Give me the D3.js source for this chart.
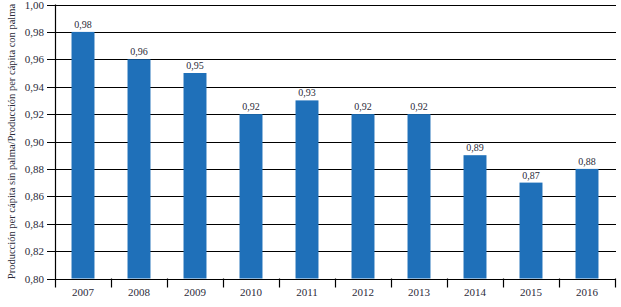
<!DOCTYPE html>
<html>
<head>
<meta charset="utf-8">
<script src="https://cdn.jsdelivr.net/npm/d3@7"></script>
<style>
  body { margin: 0; background: #fff; }
  svg text { font-family: "Liberation Serif", "DejaVu Serif", serif; fill: #2b2b3a; }
</style>
</head>
<body>
<svg id="chart" width="621" height="307"></svg>
<script>
// data
var years = ["2007", "2008", "2009", "2010", "2011", "2012", "2013", "2014", "2015", "2016"];
var ratios = [0.98, 0.96, 0.95, 0.92, 0.93, 0.92, 0.92, 0.89, 0.87, 0.88];
var yTicks = [0.80, 0.82, 0.84, 0.86, 0.88, 0.90, 0.92, 0.94, 0.96, 0.98, 1.00];

var svg = d3.select("#chart");
var plotLeft = 55, plotRight = 615, plotTop = 4.5, plotBottom = 278.5;

var xScale = d3.scaleBand()
  .domain(years)
  .range([plotLeft, plotRight]);

var yScale = d3.scaleLinear()
  .domain([0.80, 1.00])
  .range([plotBottom, plotTop]);

var fmt = function(v) { return v.toFixed(2).replace(".", ","); };

// horizontal grid lines
svg.append("g")
  .selectAll("line")
  .data(yTicks)
  .enter().append("line")
  .attr("x1", plotLeft - 8)
  .attr("x2", plotRight + 1)
  .attr("y1", function(d) { return Math.round(yScale(d)) + 0.5; })
  .attr("y2", function(d) { return Math.round(yScale(d)) + 0.5; })
  .attr("stroke", "#000")
  .attr("stroke-width", 1.2);

// y tick labels
svg.append("g")
  .selectAll("text")
  .data(yTicks)
  .enter().append("text")
  .attr("x", plotLeft - 11)
  .attr("y", function(d) { return yScale(d) + 4; })
  .attr("text-anchor", "end")
  .attr("font-size", 11)
  .text(fmt);

// bars
var barW = xScale.bandwidth() * 0.41;
svg.append("g")
  .selectAll("rect")
  .data(ratios)
  .enter().append("rect")
  .attr("x", function(d, i) { return xScale(years[i]) + (xScale.bandwidth() - barW) / 2; })
  .attr("y", function(d) { return yScale(d); })
  .attr("width", barW)
  .attr("height", function(d) { return yScale(0.80) - yScale(d); })
  .attr("fill", "#1f70b9");

// value labels
svg.append("g")
  .selectAll("text")
  .data(ratios)
  .enter().append("text")
  .attr("x", function(d, i) { return xScale(years[i]) + xScale.bandwidth() / 2; })
  .attr("y", function(d) { return yScale(d) - 4; })
  .attr("text-anchor", "middle")
  .attr("font-size", 10)
  .text(fmt);

// left axis line
svg.append("line")
  .attr("x1", plotLeft + 0.5).attr("x2", plotLeft + 0.5)
  .attr("y1", plotTop).attr("y2", plotBottom + 9)
  .attr("stroke", "#000").attr("stroke-width", 1.2);

// category boundary ticks
svg.append("g")
  .selectAll("line")
  .data(years)
  .enter().append("line")
  .attr("x1", function(d) { return Math.round(xScale(d) + xScale.bandwidth()) + 0.5; })
  .attr("x2", function(d) { return Math.round(xScale(d) + xScale.bandwidth()) + 0.5; })
  .attr("y1", plotBottom)
  .attr("y2", plotBottom + 9)
  .attr("stroke", "#000").attr("stroke-width", 1.2);

// x labels
svg.append("g")
  .selectAll("text")
  .data(years)
  .enter().append("text")
  .attr("x", function(d) { return xScale(d) + xScale.bandwidth() / 2; })
  .attr("y", plotBottom + 17)
  .attr("text-anchor", "middle")
  .attr("font-size", 11)
  .text(function(d) { return d; });

// y label
svg.append("text")
  .attr("transform", "translate(15," + ((plotTop + plotBottom) / 2) + ") rotate(-90)")
  .attr("text-anchor", "middle")
  .attr("font-size", 10.5)
  .text("Producción per cápita sin palma/Producción per cápita con palma");
</script>
</body>
</html>
